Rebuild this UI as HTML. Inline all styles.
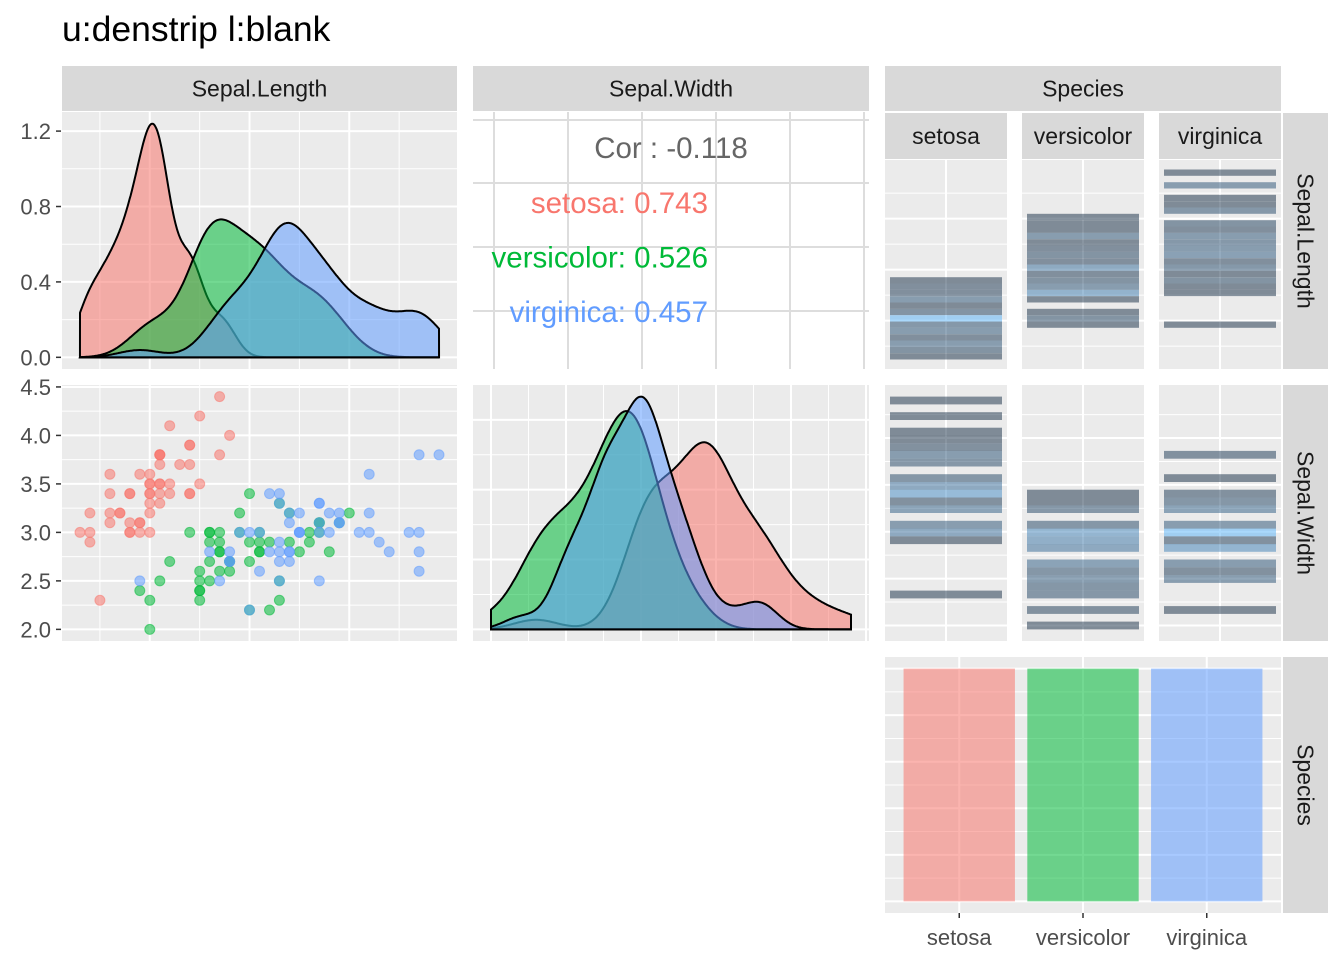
<!DOCTYPE html>
<html><head><meta charset="utf-8">
<style>
html,body{margin:0;padding:0;background:#fff;}
svg{display:block;font-family:"Liberation Sans",Arial,sans-serif;}
</style></head>
<body>
<svg id="chart" width="1344" height="960" viewBox="0 0 1344 960" xmlns="http://www.w3.org/2000/svg">
<text x="62" y="41" font-size="35.5" fill="#000">u:denstrip l:blank</text>
<g id="g"></g>
</svg>
<script>
// ---- data (iris) ----
const species = ["setosa","versicolor","virginica"];
const colors = ["#F8766D","#00BA38","#619CFF"];
const sepalLength = [
[5.1,4.9,4.7,4.6,5.0,5.4,4.6,5.0,4.4,4.9,5.4,4.8,4.8,4.3,5.8,5.7,5.4,5.1,5.7,5.1,5.4,5.1,4.6,5.1,4.8,5.0,5.0,5.2,5.2,4.7,4.8,5.4,5.2,5.5,4.9,5.0,5.5,4.9,4.4,5.1,5.0,4.5,4.4,5.0,5.1,4.8,5.1,4.6,5.3,5.0],
[7.0,6.4,6.9,5.5,6.5,5.7,6.3,4.9,6.6,5.2,5.0,5.9,6.0,6.1,5.6,6.7,5.6,5.8,6.2,5.6,5.9,6.1,6.3,6.1,6.4,6.6,6.8,6.7,6.0,5.7,5.5,5.5,5.8,6.0,5.4,6.0,6.7,6.3,5.6,5.5,5.5,6.1,5.8,5.0,5.6,5.7,5.7,6.2,5.1,5.7],
[6.3,5.8,7.1,6.3,6.5,7.6,4.9,7.3,6.7,7.2,6.5,6.4,6.8,5.7,5.8,6.4,6.5,7.7,7.7,6.0,6.9,5.6,7.7,6.3,6.7,7.2,6.2,6.1,6.4,7.2,7.4,7.9,6.4,6.3,6.1,7.7,6.3,6.4,6.0,6.9,6.7,6.9,5.8,6.8,6.7,6.7,6.3,6.5,6.2,5.9]];
const sepalWidth = [
[3.5,3.0,3.2,3.1,3.6,3.9,3.4,3.4,2.9,3.1,3.7,3.4,3.0,3.0,4.0,4.4,3.9,3.5,3.8,3.8,3.4,3.7,3.6,3.3,3.4,3.0,3.4,3.5,3.4,3.2,3.1,3.4,4.1,4.2,3.1,3.2,3.5,3.6,3.0,3.4,3.5,2.3,3.2,3.5,3.8,3.0,3.8,3.2,3.7,3.3],
[3.2,3.2,3.1,2.3,2.8,2.8,3.3,2.4,2.9,2.7,2.0,3.0,2.2,2.9,2.9,3.1,3.0,2.7,2.2,2.5,3.2,2.8,2.5,2.8,2.9,3.0,2.8,3.0,2.9,2.6,2.4,2.4,2.7,2.7,3.0,3.4,3.1,2.3,3.0,2.5,2.6,3.0,2.6,2.3,2.7,3.0,2.9,2.9,2.5,2.8],
[3.3,2.7,3.0,2.9,3.0,3.0,2.5,2.9,2.5,3.6,3.2,2.7,3.0,2.5,2.8,3.2,3.0,3.8,2.6,2.2,3.2,2.8,2.8,2.7,3.3,3.2,2.8,3.0,2.8,3.0,2.8,3.8,2.8,2.8,2.6,3.0,3.4,3.1,3.0,3.1,3.1,3.1,2.7,3.2,3.3,3.0,2.5,3.0,3.4,3.0]];
const speciesCounts = [50,50,50];
const corOverall = "-0.118";
const corBySpecies = ["0.743","0.526","0.457"];
const densTicks = [0,0.4,0.8,1.2];
const swTicks = [2.0,2.5,3.0,3.5,4.0,4.5];

const NS="http://www.w3.org/2000/svg";
const G=document.getElementById('g');
function el(tag,attrs,parent){const e=document.createElementNS(NS,tag);for(const k in attrs)e.setAttribute(k,attrs[k]);(parent||G).appendChild(e);return e;}
function lin(d0,d1,r0,r1){return v=>r0+(v-d0)*(r1-r0)/(d1-d0);}
function expandScale(lo,hi,r0,r1){const p=(hi-lo)*0.05;return lin(lo-p,hi+p,r0,r1);}
function quant(a,p){const s=[...a].sort((x,y)=>x-y);const h=(s.length-1)*p;const l=Math.floor(h);return s[l]+(h-l)*((s[Math.min(l+1,s.length-1)])-s[l]);}
function kde(a,lo,hi){const n=a.length,m=a.reduce((x,y)=>x+y)/n;const sd=Math.sqrt(a.reduce((s,v)=>s+(v-m)*(v-m),0)/(n-1));
 const iqr=quant(a,0.75)-quant(a,0.25);const bw=0.9*Math.min(sd,iqr/1.34)*Math.pow(n,-0.2);const out=[];
 for(let i=0;i<512;i++){const x=lo+(hi-lo)*i/511;let s=0;for(const v of a){const z=(x-v)/bw;s+=Math.exp(-0.5*z*z);}out.push([x,s/(n*bw*Math.sqrt(2*Math.PI))]);}return out;}
const all=a=>a.flat();
function rng(a){return [Math.min(...a),Math.max(...a)];}
function bgPanel(x0,y0,x1,y1,name){const r=el('rect',{x:x0,y:y0,width:x1-x0,height:y1-y0,fill:'#EBEBEB'});return r;}
function hline(y,x0,x1,w,c){el('line',{x1:x0,x2:x1,y1:y,y2:y,stroke:c||'#fff','stroke-width':w});}
function vline(x,y0,y1,w,c){el('line',{x1:x,x2:x,y1:y0,y2:y1,stroke:c||'#fff','stroke-width':w});}
function txt(s,x,y,attrs,name){const t=el('text',Object.assign({x:x,y:y},attrs));t.textContent=s;return t;}
function strip(x0,y0,x1,y1,label,name,rot){const r=el('rect',{x:x0,y:y0,width:x1-x0,height:y1-y0,fill:'#D9D9D9'});
 const cx=(x0+x1)/2,cy=(y0+y1)/2;
 if(rot){txt(label,cx,cy,{'font-size':23,fill:'#1A1A1A','text-anchor':'middle','dominant-baseline':'central',transform:`rotate(90 ${cx} ${cy})`},name+'-label');}
 else txt(label,cx,cy+8,{'font-size':23,fill:'#1A1A1A','text-anchor':'middle'},name+'-label');}

const slR=rng(all(sepalLength)), swR=rng(all(sepalWidth));
strip(62,66,457,111,'Sepal.Length','strip-sepal-length');
strip(473,66,869,111,'Sepal.Width','strip-sepal-width');
strip(885,66,1281,111,'Species','strip-species');
strip(1283,113,1328,369,'Sepal.Length','strip-row-sepal-length',true);
strip(1283,385,1328,641,'Sepal.Width','strip-row-sepal-width',true);
strip(1283,657,1328,913,'Species','strip-row-species',true);
const subs=[[885,1007],[1022,1144],[1159,1281]];
subs.forEach((s,i)=>strip(s[0],113,s[1],159,species[i],'substrip-'+species[i]));

// ---- P11 density Sepal.Length ----
const xSL=expandScale(slR[0],slR[1],62,457);
const d11=sepalLength.map(a=>kde(a,slR[0],slR[1]));
const m11=Math.max(...d11.flat().map(p=>p[1]));
const y11=expandScale(0,m11,369,112);
bgPanel(62,112,457,369,'panel-density-sepal-length');
[4.5,5.5,6.5,7.5].forEach(v=>vline(xSL(v),112,369,1));
[0.2,0.6,1.0].forEach(v=>hline(y11(v),62,457,1));
[5,6,7].forEach(v=>vline(xSL(v),112,369,2));
densTicks.forEach(v=>hline(y11(v),62,457,2));
function densPath(d,xs,ys,i,name){let p=`M${xs(d[0][0])},${ys(0)}`;d.forEach(q=>p+=`L${xs(q[0]).toFixed(1)},${ys(q[1]).toFixed(1)}`);p+=`L${xs(d[d.length-1][0])},${ys(0)}Z`;
 const e=el('path',{d:p,fill:colors[i],'fill-opacity':0.55,stroke:'#000','stroke-width':2});}
d11.forEach((d,i)=>densPath(d,xSL,y11,i,'density-sepal-length-'+species[i]));
densTicks.forEach(v=>{el('line',{x1:56,x2:61,y1:y11(v),y2:y11(v),stroke:'#333','stroke-width':1.5});txt(v.toFixed(1),51,y11(v)+8,{'font-size':22,fill:'#4D4D4D','text-anchor':'end'},'y-tick-density');});

// ---- P21 scatter ----
const ySW=expandScale(swR[0],swR[1],641,385);
bgPanel(62,385,457,641,'panel-scatter');
[4.5,5.5,6.5,7.5].forEach(v=>vline(xSL(v),385,641,1));
[2.25,2.75,3.25,3.75,4.25].forEach(v=>hline(ySW(v),62,457,1));
[5,6,7].forEach(v=>vline(xSL(v),385,641,2));
swTicks.forEach(v=>hline(ySW(v),62,457,2));
sepalLength.forEach((a,i)=>a.forEach((v,j)=>{const c=el('circle',{cx:xSL(v).toFixed(1),cy:ySW(sepalWidth[i][j]).toFixed(1),r:5,fill:colors[i],'fill-opacity':0.55,stroke:colors[i],'stroke-opacity':0.55,'stroke-width':1});
 }));
swTicks.forEach(v=>{el('line',{x1:56,x2:61,y1:ySW(v),y2:ySW(v),stroke:'#333','stroke-width':1.5});txt(v.toFixed(1),51,ySW(v)+8,{'font-size':22,fill:'#4D4D4D','text-anchor':'end'},'y-tick-sepal-width');});

// ---- P12 correlation ----
[120,183,247,311].forEach(y=>hline(y,473,869,2,'#DDDDDD'));
[494,568,642,716,790,864].forEach(x=>vline(x,112,369,2,'#DDDDDD'));
txt('Cor : '+corOverall,671,158,{'font-size':29.5,fill:'#666666','text-anchor':'middle'},'cor-overall');
corBySpecies.forEach((c,i)=>txt(species[i]+': '+c,708,213+i*54.5,{'font-size':29.5,fill:colors[i],'text-anchor':'end'},'cor-'+species[i]));

// ---- P22 density Sepal.Width ----
const xSW=expandScale(swR[0],swR[1],473,869);
const d22=sepalWidth.map(a=>kde(a,swR[0],swR[1]));
const m22=Math.max(...d22.flat().map(p=>p[1]));
const y22=expandScale(0,m22,641,385);
bgPanel(473,385,869,641,'panel-density-sepal-width');
[2.25,2.75,3.25,3.75,4.25].forEach(v=>vline(xSW(v),385,641,1));
[0.2,0.6,1.0].forEach(v=>hline(y22(v),473,869,1));
swTicks.forEach(v=>{if(xSW(v)<869)vline(xSW(v),385,641,2);});
[0,0.4,0.8,1.2].forEach(v=>hline(y22(v),473,869,2));
d22.forEach((d,i)=>densPath(d,xSW,y22,i,'density-sepal-width-'+species[i]));

// ---- denstrip panels ----
function mix(t){const a=[0x13,0x2B,0x43],b=[0x56,0xB1,0xF7];return 'rgb('+a.map((v,k)=>Math.round(v+(b[k]-v)*t)).join(',')+')';}
function denstrip(data,r,y0,y1,majors,minors,name){
 const w=(r[1]-r[0])/29;const ys=expandScale(r[0]-w/2,r[1]+w/2,y1,y0);
 const counts=data.map(a=>{const c=new Array(30).fill(0);a.forEach(v=>{c[Math.min(29,Math.round((v-r[0])/w))]++;});return c;});
 const mx=Math.max(...counts.flat());
 subs.forEach((s,i)=>{bgPanel(s[0],y0,s[1],y1,name+'-'+species[i]);
  minors.forEach(v=>hline(ys(v),s[0],s[1],1));majors.forEach(v=>hline(ys(v),s[0],s[1],2));vline((s[0]+s[1])/2,y0,y1,2);
  counts[i].forEach((c,k)=>{if(!c)return;const ctr=r[0]+k*w;const t=el('rect',{x:s[0]+5,width:s[1]-s[0]-10,y:ys(ctr+w/2).toFixed(1),height:(ys(ctr-w/2)-ys(ctr+w/2)).toFixed(1),fill:mix((c-1)/(mx-1)),'fill-opacity':0.5});
   });});}
denstrip(sepalLength,slR,160,369,[5,6,7],[4.5,5.5,6.5,7.5],'panel-denstrip-length');
denstrip(sepalWidth,swR,385,641,[2,2.5,3,3.5,4],[2.25,2.75,3.25,3.75,4.25],'panel-denstrip-width');

// ---- bar panel ----
bgPanel(885,657,1281,913,'panel-species-bars');
const xb=lin(0.4,3.6,885,1281);const yb=expandScale(0,Math.max(...speciesCounts),913,657);
[5,15,25,35,45].forEach(v=>hline(yb(v),885,1281,1));[0,10,20,30,40,50].forEach(v=>hline(yb(v),885,1281,2));
species.forEach((s,i)=>vline(xb(i+1),657,913,2));
speciesCounts.forEach((c,i)=>{const b=el('rect',{x:xb(i+1-0.45),width:xb(1.45)-xb(0.55),y:yb(c),height:yb(0)-yb(c),fill:colors[i],'fill-opacity':0.55});
 
 el('line',{x1:xb(i+1),x2:xb(i+1),y1:913,y2:918,stroke:'#333','stroke-width':1.5});
 txt(species[i],xb(i+1),945,{'font-size':22,fill:'#4D4D4D','text-anchor':'middle'},'x-tick-'+species[i]);});
</script>
</body></html>
